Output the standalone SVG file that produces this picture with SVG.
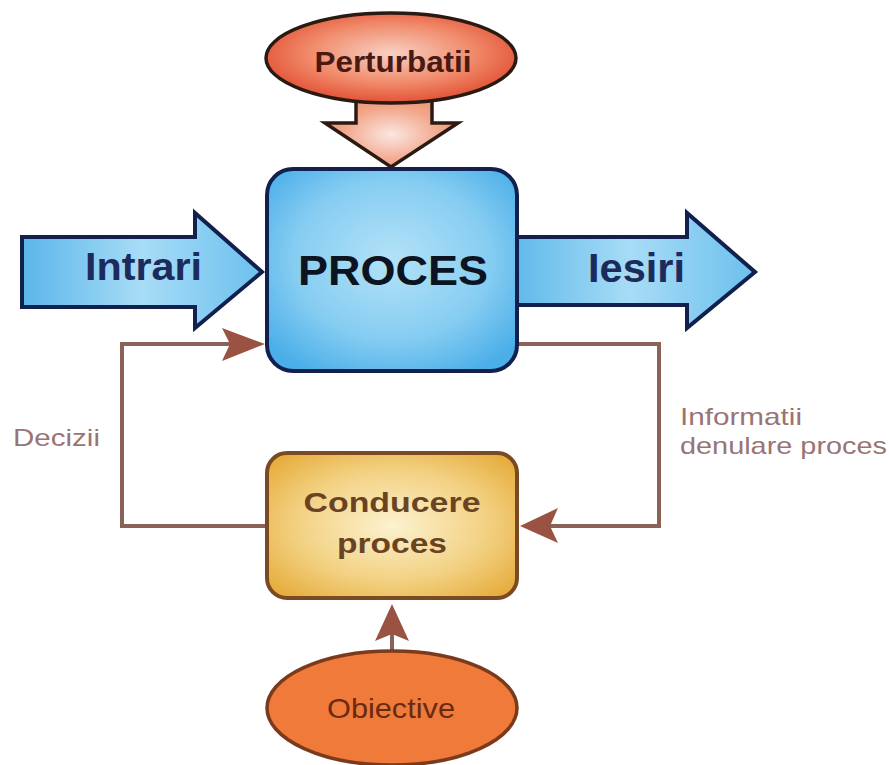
<svg xmlns="http://www.w3.org/2000/svg" width="889" height="765" viewBox="0 0 889 765">
  <defs>
    <radialGradient id="gBlue" cx="50%" cy="45%" r="65%">
      <stop offset="0" stop-color="#b4e2f7"/>
      <stop offset="0.6" stop-color="#86cdf2"/>
      <stop offset="1" stop-color="#4aaee8"/>
    </radialGradient>
    <linearGradient id="gArrow" x1="0" y1="0" x2="1" y2="0">
      <stop offset="0" stop-color="#5ab6ea"/>
      <stop offset="0.5" stop-color="#a8dcf6"/>
      <stop offset="1" stop-color="#6cc0ee"/>
    </linearGradient>
    <radialGradient id="gRed" cx="50%" cy="45%" r="60%">
      <stop offset="0" stop-color="#f8d0c4"/>
      <stop offset="0.55" stop-color="#f08a6a"/>
      <stop offset="1" stop-color="#e0452a"/>
    </radialGradient>
    <radialGradient id="gSalmon" cx="50%" cy="55%" r="60%">
      <stop offset="0" stop-color="#fbe6e2"/>
      <stop offset="0.6" stop-color="#f2a88c"/>
      <stop offset="1" stop-color="#ea9070"/>
    </radialGradient>
    <radialGradient id="gYellow" cx="50%" cy="50%" r="65%">
      <stop offset="0" stop-color="#fcf2d0"/>
      <stop offset="0.6" stop-color="#f2d080"/>
      <stop offset="1" stop-color="#e6ac3c"/>
    </radialGradient>
    <style>
      .conn { fill: none; stroke: #8a6258; stroke-width: 4; }
      .head { fill: #9a5242; stroke: none; }
      .blueStroke { stroke: #11204c; stroke-width: 4; stroke-linejoin: miter; }
      .lbl { font-family: "Liberation Sans", Arial, sans-serif; fill: #9a7474; font-size: 24px; }
      .bold { font-family: "Liberation Sans", Arial, sans-serif; font-weight: bold; }
    </style>
  </defs>

  <rect width="889" height="765" fill="#ffffff"/>

  <g id="connectors">
    <polyline class="conn" points="267,526 122,526 122,344 230,344"/>
    <path class="head" d="M265,344 L222,328 L230,344 L222,361 Z"/>
    <polyline class="conn" points="517,344 659,344 659,526 550,526"/>
    <path class="head" d="M520,526 L558,508 L550,526 L558,543 Z"/>
    <line class="conn" x1="392" y1="652" x2="392" y2="632"/>
    <path class="head" d="M392,604 L409,641 L392,634 L375,641 Z"/>
  </g>

  <g id="perturbatii-arrow">
    <path d="M356,95 L432,95 L432,123 L458,123 L391,167 L325,123 L356,123 Z" fill="url(#gSalmon)" stroke="#2a1a12" stroke-width="3.5" stroke-linejoin="miter"/>
  </g>

  <g id="perturbatii">
    <ellipse cx="391" cy="58" rx="125" ry="45" fill="url(#gRed)" stroke="#2a1a12" stroke-width="3.5"/>
    <text class="bold" x="393" y="72" font-size="30" fill="#4a1a12" text-anchor="middle" textLength="157" lengthAdjust="spacingAndGlyphs">Perturbatii</text>
  </g>

  <g id="intrari">
    <path d="M22,237 L195,237 L195,213 L262,272 L195,328 L195,307 L22,307 Z" fill="url(#gArrow)" class="blueStroke"/>
    <text class="bold" x="85" y="280" font-size="39" fill="#1c2a5c" textLength="117" lengthAdjust="spacingAndGlyphs">Intrari</text>
  </g>

  <g id="iesiri">
    <path d="M505,237 L687,237 L687,213 L755,272 L687,328 L687,305 L505,305 Z" fill="url(#gArrow)" class="blueStroke"/>
    <text class="bold" x="588" y="282" font-size="40" fill="#1c2a5c" textLength="97" lengthAdjust="spacingAndGlyphs">Iesiri</text>
  </g>

  <g id="proces">
    <rect x="267" y="169" width="250" height="202" rx="26" ry="26" fill="url(#gBlue)" class="blueStroke"/>
    <text class="bold" x="393" y="285" font-size="42" fill="#0c1422" text-anchor="middle" textLength="190" lengthAdjust="spacingAndGlyphs">PROCES</text>
  </g>

  <g id="conducere">
    <rect x="267" y="453" width="250" height="145" rx="20" ry="20" fill="url(#gYellow)" stroke="#7a4a22" stroke-width="4"/>
    <text class="bold" x="392" y="512" font-size="27" fill="#6a4422" text-anchor="middle" textLength="177" lengthAdjust="spacingAndGlyphs">Conducere</text>
    <text class="bold" x="392" y="553" font-size="28" fill="#6a4422" text-anchor="middle" textLength="110" lengthAdjust="spacingAndGlyphs">proces</text>
  </g>

  <g id="obiective">
    <ellipse cx="392" cy="708" rx="125" ry="57" fill="#f07a3a" stroke="#7a3a1c" stroke-width="3.5"/>
    <text x="391" y="718" font-family="'Liberation Sans', Arial, sans-serif" font-size="28" fill="#6a2a12" text-anchor="middle" textLength="128" lengthAdjust="spacingAndGlyphs">Obiective</text>
  </g>

  <g id="labels">
    <text class="lbl" x="13" y="446" font-size="26" textLength="87" lengthAdjust="spacingAndGlyphs">Decizii</text>
    <text class="lbl" x="680" y="425" textLength="122" lengthAdjust="spacingAndGlyphs">Informatii</text>
    <text class="lbl" x="680" y="454" textLength="207" lengthAdjust="spacingAndGlyphs">denulare proces</text>
  </g>
</svg>
